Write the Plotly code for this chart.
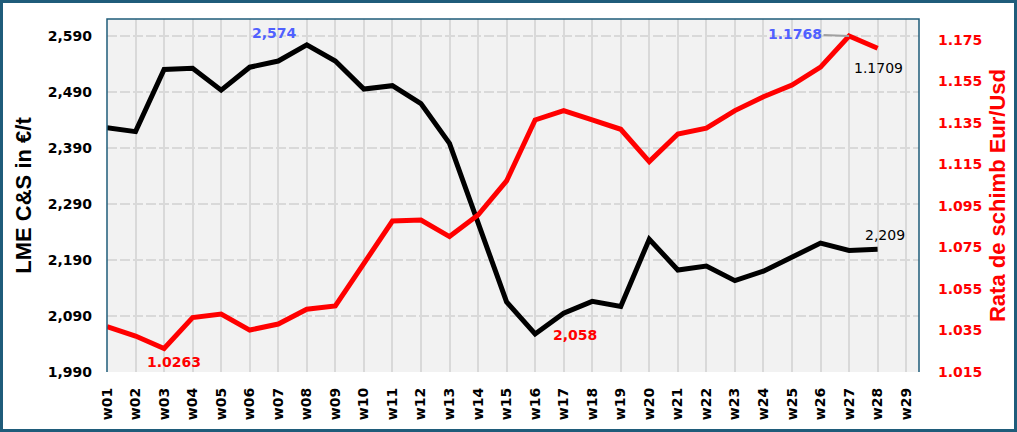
import plotly.graph_objects as go

weeks = [f"w{i:02d}" for i in range(1, 30)]
lme_price = [2426, 2419, 2530, 2532, 2493, 2534, 2545, 2574, 2545, 2495,
             2501, 2469, 2398, 2255, 2115, 2058, 2095, 2116, 2107, 2227,
             2172, 2179, 2153, 2170, 2194, 2220, 2207, 2209]
eur_usd = [1.0368, 1.0323, 1.0263, 1.0412, 1.0429, 1.0352, 1.0381, 1.0452, 1.0468, 1.0673,
           1.0877, 1.0882, 1.0802, 1.0906, 1.1070, 1.1364, 1.1409, 1.1364, 1.1319, 1.1163,
           1.1296, 1.1324, 1.1409, 1.1476, 1.1532, 1.1618, 1.1768, 1.1709]
left_ticks = [1990, 2090, 2190, 2290, 2390, 2490, 2590]
right_ticks = [1.015, 1.035, 1.055, 1.075, 1.095, 1.115, 1.135, 1.155, 1.175]

TICKFONT = "DejaVu Sans"
TITLEFONT = "Liberation Sans"
BORDER = "#1F5C7A"

fig = go.Figure()
fig.add_trace(go.Scatter(x=weeks[:len(lme_price)], y=lme_price, mode="lines",
                         line=dict(color="black", width=5), yaxis="y",
                         name="LME C&S", showlegend=False))
fig.add_trace(go.Scatter(x=weeks[:len(eur_usd)], y=eur_usd, mode="lines",
                         line=dict(color="#FF0000", width=5), yaxis="y2",
                         name="Eur/Usd", showlegend=False))

ML, MR, MT, MB = 107, 98, 19, 60
W, H = 1017, 432
PW, PH = W - ML - MR, H - MT - MB

fig.update_layout(
    width=W, height=H,
    margin=dict(l=ML, r=MR, t=MT, b=MB, autoexpand=False),
    paper_bgcolor="white", plot_bgcolor="#F2F2F2",
    xaxis=dict(type="category", categoryarray=weeks, range=[0, 28.45],
               showgrid=True, gridcolor="#D9D9D9", gridwidth=1.5,
               tickangle=-90, ticks="", ticklabelstandoff=12,
               tickfont=dict(family=TICKFONT, size=14, color="black", weight="bold"),
               zeroline=False, showline=False),
    yaxis=dict(range=[1990, 2620], tickvals=left_ticks, tickformat=",d",
               showgrid=True, gridcolor="#D9D9D9", gridwidth=1.5, griddash="10px,3px",
               ticks="", ticklabelstandoff=14, zeroline=False,
               tickfont=dict(family=TICKFONT, size=14, color="black", weight="bold"),
               title=dict(text="LME C&S in €/t", standoff=10,
                          font=dict(family=TITLEFONT, size=22, color="black", weight="bold"))),
    yaxis2=dict(range=[1.015, 1.185], tickvals=right_ticks, tickformat=".3f",
                overlaying="y", side="right", showgrid=False, zeroline=False,
                ticks="", ticklabelstandoff=18,
                tickfont=dict(family=TICKFONT, size=14, color="#FF0000", weight="bold"),
                title=dict(text="Rata de schimb Eur/Usd", standoff=8,
                           font=dict(family=TITLEFONT, size=22, color="#FF0000", weight="bold"))),
)

# outer border of the whole picture
fig.add_shape(type="rect", xref="paper", yref="paper",
              x0=(-ML + 1.5) / PW, x1=1 + (MR - 1.5) / PW,
              y0=(-MB + 1.5) / PH, y1=1 + (MT - 1.5) / PH,
              line=dict(color=BORDER, width=3), fillcolor="rgba(0,0,0,0)", layer="above")
# plot area border (left, top, right)
fig.add_shape(type="path", xref="paper", yref="paper",
              path="M 0 0 L 0 1 L 1 1 L 1 0",
              line=dict(color=BORDER, width=1.5), layer="above")

ann_font_b = dict(family=TICKFONT, size=14, weight="bold")
ann_font_r = dict(family=TICKFONT, size=14, weight="normal")
i_max = lme_price.index(max(lme_price))
i_min = lme_price.index(min(lme_price))
j_min = eur_usd.index(min(eur_usd))
j_max = eur_usd.index(max(eur_usd))
nL = len(lme_price) - 1
nE = len(eur_usd) - 1

fig.add_annotation(x=weeks[i_max], y=lme_price[i_max], yref="y", text=f"{lme_price[i_max]:,}",
                   showarrow=False, xshift=-32, yshift=12, font=dict(color="#5060FF", **ann_font_b))
fig.add_annotation(x=weeks[i_min], y=lme_price[i_min], yref="y", text=f"{lme_price[i_min]:,}",
                   showarrow=False, xanchor="left", xshift=16, yshift=-1,
                   font=dict(color="#FF0000", **ann_font_b))
fig.add_annotation(x=weeks[nL], y=lme_price[nL], yref="y", text=f"{lme_price[nL]:,}",
                   showarrow=False, xshift=7, yshift=14, font=dict(color="black", **ann_font_r))
fig.add_annotation(x=weeks[j_min], y=eur_usd[j_min], yref="y2", text=f"{eur_usd[j_min]:.4f}",
                   showarrow=False, xshift=10, yshift=-13, font=dict(color="#FF0000", **ann_font_b))
fig.add_annotation(x=weeks[j_max], y=eur_usd[j_max], yref="y2", text=f"{eur_usd[j_max]:.4f}",
                   showarrow=True, arrowhead=0, arrowcolor="#A0A0A0", arrowwidth=2,
                   ax=-54, ay=-2, standoff=0, font=dict(color="#5060FF", **ann_font_b))
fig.add_annotation(x=weeks[nE], y=eur_usd[nE], yref="y2", text=f"{eur_usd[nE]:.4f}",
                   showarrow=False, xshift=1, yshift=-20, font=dict(color="black", **ann_font_r))

fig.write_html("out.html", config={"displayModeBar": False},
               post_script="document.body.style.margin='0';document.body.style.overflow='hidden';")
